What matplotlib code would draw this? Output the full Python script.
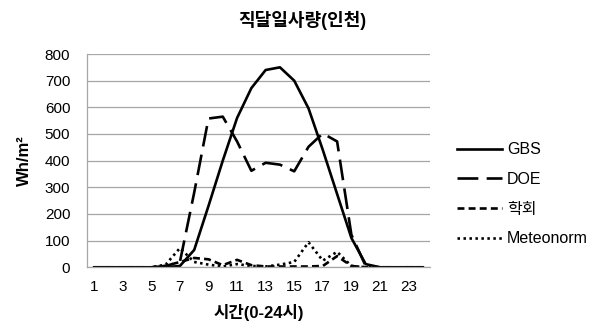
import numpy as np
import matplotlib
matplotlib.use("Agg")
import matplotlib.pyplot as plt

plt.rcParams['font.family'] = ['Liberation Sans', 'Noto Sans CJK KR', 'DejaVu Sans']
plt.rcParams['lines.scale_dashes'] = False

# ---- data ----
hours = list(range(1, 25))
gbs = [0, 0, 0, 0, 0, 0, 5, 65, 230, 400, 560, 672, 740, 750, 700, 596, 440, 275, 110, 12, 0, 0, 0, 0]
doe = [0, 0, 0, 0, 0, 5, 20, 280, 558, 565, 472, 362, 392, 385, 360, 452, 502, 472, 122, 5, 0, 0, 0, 0]
hakhoe = [0, 0, 0, 0, 0, 5, 20, 35, 30, 8, 28, 8, 3, 3, 3, 3, 5, 42, 5, 0, 0, 0, 0, 0]
meteonorm = [0, 0, 0, 0, 0, 10, 72, 20, 10, 3, 12, 5, 3, 10, 20, 94, 25, 58, 5, 0, 0, 0, 0, 0]

title = "직달일사량(인천)"
xlabel = "시간(0-24시)"
ylabel = "Wh/m²"
yticks = list(range(0, 801, 100))
xticks = list(range(1, 24, 2))

fig = plt.figure(figsize=(5.97, 3.30), dpi=100)
ax = fig.add_axes([87 / 597, 1 - 267.3 / 330, (430 - 87) / 597, (267.3 - 54) / 330])

ax.plot(hours, gbs, color="black", lw=1.9, label="GBS")
ax.plot(hours, doe, color="black", lw=1.9, dashes=(15, 6), label="DOE")
ax.plot(hours, hakhoe, color="black", lw=1.9, dashes=(5, 3), label="학회")
ax.plot(hours, meteonorm, color="black", lw=1.9, dashes=(1.8, 2.5), label="Meteonorm")

ax.set_xlim(0.5, 24.5)
ax.set_ylim(0, 800)
ax.set_yticks(yticks)
ax.set_xticks(xticks)
ax.tick_params(axis="both", length=0, labelsize=11)
ax.tick_params(axis="y", pad=12)
ax.tick_params(axis="x", pad=9)
ax.grid(axis="y", color="#a6a6a6", lw=0.9)
ax.set_axisbelow(True)
for s in ["top", "right"]:
    ax.spines[s].set_visible(False)
for s in ["left", "bottom"]:
    ax.spines[s].set_color("#a6a6a6")
    ax.spines[s].set_linewidth(0.9)

ax.set_xlabel(xlabel, fontsize=12, fontweight="bold", labelpad=7)
ax.set_ylabel(ylabel, fontsize=12, fontweight="bold", labelpad=9)
fig.text(302 / 597, 1 - 20 / 330, title, fontsize=13, fontweight="bold",
         ha="center", va="center")

fig.legend(loc="upper left", bbox_to_anchor=(451 / 597, 1 - 136 / 330),
           frameon=False, fontsize=11.5, handlelength=2.8, handletextpad=0.3,
           labelspacing=0.92, borderaxespad=0)

fig.savefig("out.png", dpi=100)
